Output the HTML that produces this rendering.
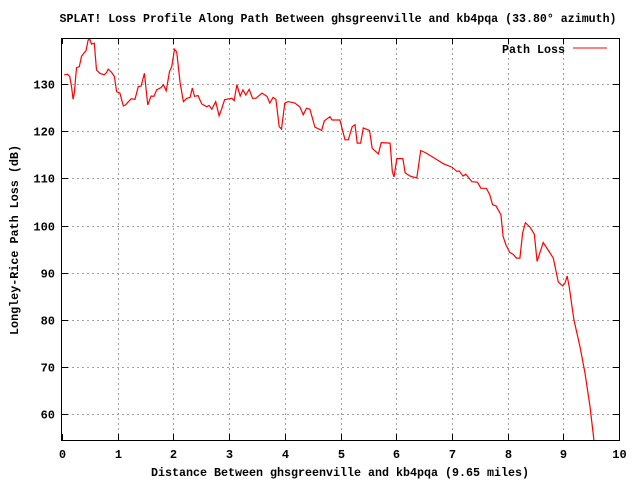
<!DOCTYPE html>
<html><head><meta charset="utf-8"><style>
body{margin:0;background:#fff}
svg text{font-family:"Liberation Mono",monospace;font-weight:bold;font-size:12px;fill:#000}
</style></head><body>
<svg id="chart" width="640" height="480" viewBox="0 0 640 480" xmlns="http://www.w3.org/2000/svg">
<rect width="640" height="480" fill="#fff"/>
<text x="338" y="22" text-anchor="middle" textLength="557" lengthAdjust="spacingAndGlyphs">SPLAT! Loss Profile Along Path Between ghsgreenville and kb4pqa (33.80° azimuth)</text>
<g id="grid"></g><g id="ticks"></g>
<rect x="61.5" y="38.5" width="558" height="402" fill="none" stroke="#000" stroke-width="1"/>
<text x="340" y="476" text-anchor="middle" textLength="378" lengthAdjust="spacingAndGlyphs">Distance Between ghsgreenville and kb4pqa (9.65 miles)</text>
<text transform="translate(18,240) rotate(-90)" text-anchor="middle" textLength="190" lengthAdjust="spacingAndGlyphs">Longley-Rice Path Loss (dB)</text>
<g>
<text x="565" y="53" text-anchor="end" textLength="63" lengthAdjust="spacingAndGlyphs">Path Loss</text>
<line x1="573" y1="48" x2="607" y2="48" stroke="#f00" stroke-width="1"/>
</g>
<polyline id="series" fill="none" stroke="#f00" stroke-width="1.2"/>
</svg>
<script>
const xTicks=[0,1,2,3,4,5,6,7,8,9,10];
const yTicks=[60,70,80,90,100,110,120,130];
const distances=[0.04,0.10,0.14,0.17,0.20,0.22,0.26,0.31,0.35,0.40,0.43,0.47,0.50,0.53,0.58,0.62,0.68,0.76,0.80,0.83,0.89,0.94,0.98,1.04,1.10,1.14,1.24,1.31,1.37,1.42,1.48,1.50,1.54,1.60,1.65,1.70,1.78,1.82,1.87,1.93,1.97,2.02,2.06,2.12,2.18,2.24,2.30,2.34,2.38,2.44,2.51,2.60,2.64,2.69,2.76,2.82,2.87,2.92,3.05,3.09,3.14,3.20,3.25,3.30,3.36,3.42,3.48,3.59,3.68,3.73,3.79,3.84,3.90,3.94,4.00,4.06,4.18,4.27,4.33,4.39,4.45,4.54,4.66,4.71,4.81,4.85,4.99,5.08,5.14,5.21,5.26,5.30,5.36,5.41,5.52,5.57,5.68,5.73,5.89,5.93,5.96,6.01,6.12,6.16,6.25,6.37,6.44,6.52,6.70,6.85,7.00,7.09,7.13,7.20,7.25,7.36,7.46,7.52,7.62,7.68,7.73,7.79,7.88,7.92,7.97,8.04,8.10,8.16,8.22,8.27,8.32,8.40,8.48,8.53,8.64,8.75,8.82,8.91,8.99,9.03,9.07,9.11,9.19,9.30,9.39,9.48,9.55];
const lossValues=[132.0,132.1,131.6,129.5,126.8,128.1,133.5,133.7,135.9,136.7,137.1,139.4,139.5,138.5,138.7,133.0,132.3,132.0,132.5,133.2,132.5,131.6,128.4,128.1,125.4,125.6,126.9,126.8,129.5,129.6,132.3,129.9,125.6,127.5,127.4,128.8,129.3,129.9,128.6,132.7,133.7,137.4,136.9,130.3,126.3,127.0,127.2,129.2,127.4,127.6,125.8,125.2,125.5,124.7,126.3,123.3,124.9,126.7,127.0,126.5,129.9,127.5,128.8,127.7,128.9,127.0,127.0,128.1,127.4,126.0,127.2,126.8,121.0,120.5,126.0,126.3,126.0,125.2,123.5,124.9,124.7,120.9,120.2,122.2,123.1,122.4,122.4,118.2,118.2,121.0,121.4,117.5,117.5,120.7,120.2,116.4,115.2,117.6,117.5,111.5,110.3,114.2,114.2,111.2,110.5,110.1,115.9,115.5,114.2,113.1,112.4,111.5,111.6,110.5,110.9,109.3,109.2,107.9,107.9,106.5,104.4,104.2,102.3,97.7,95.9,94.3,93.9,93.1,93.1,98.4,100.6,99.7,98.2,92.4,96.4,94.4,93.1,88.0,87.2,87.8,89.3,86.7,80.0,74.3,68.7,61.6,54.5];
const X0=62,X1=619,Y0=440,Y1=38,xMin=0,xMax=10,yMin=54.5,yMax=139.8;
const sx=v=>X0+(v-xMin)/(xMax-xMin)*(X1-X0);
const sy=v=>Y0-(v-yMin)/(yMax-yMin)*(Y0-Y1);
const NS="http://www.w3.org/2000/svg";
const grid=document.getElementById('grid'),ticks=document.getElementById('ticks');
function mk(tag,attrs,parent){const e=document.createElementNS(NS,tag);for(const k in attrs)e.setAttribute(k,attrs[k]);parent.appendChild(e);return e;}
xTicks.forEach(t=>{
  const x=Math.round(sx(t))+0.5;
  if(t>xMin&&t<xMax){const g=mk('line',{x1:x,y1:Y1,x2:x,y2:Y0,stroke:'#a0a0a0','stroke-dasharray':'2,3'},grid);
  
  }
  const a=mk('line',{x1:x,y1:Y0,x2:x,y2:Y0-6,stroke:'#000'},ticks);
  
  
  mk('line',{x1:x,y1:Y1,x2:x,y2:Y1+6,stroke:'#000'},ticks);
  const l=mk('text',{x:x,y:458,'text-anchor':'middle'},ticks);l.textContent=t;
  
  
});
yTicks.forEach(t=>{
  const y=Math.round(sy(t))+0.5;
  const g=mk('line',{x1:X0,y1:y,x2:X1,y2:y,stroke:'#a0a0a0','stroke-dasharray':'2,3'},grid);
  
  
  const a=mk('line',{x1:X0,y1:y,x2:X0+6,y2:y,stroke:'#000'},ticks);
  
  
  mk('line',{x1:X1,y1:y,x2:X1-6,y2:y,stroke:'#000'},ticks);
  const l=mk('text',{x:55,y:y+4,'text-anchor':'end'},ticks);l.textContent=t;
  
  
});
document.getElementById('series').setAttribute('points',distances.map((d,i)=>sx(d).toFixed(1)+','+sy(lossValues[i]).toFixed(1)).join(' '));
</script>
</body></html>
